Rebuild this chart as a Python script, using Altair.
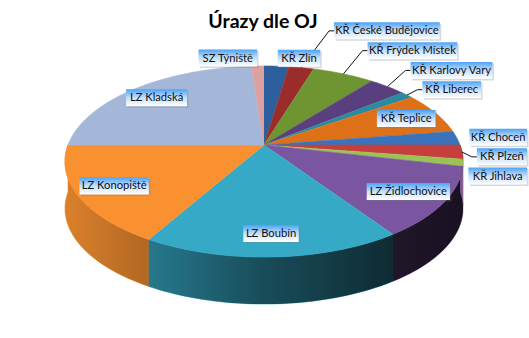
import math
import altair as alt
import pandas as pd

# ---------------- data ----------------
title_text = "Úrazy dle OJ"
labels = ["KŘ Zlín", "KŘ České Budějovice", "KŘ Frýdek Místek", "KŘ Karlovy Vary",
          "KŘ Liberec", "KŘ Teplice", "KŘ Choceň", "KŘ Plzeň", "KŘ Jihlava",
          "LZ Židlochovice", "LZ Boubín", "LZ Konopiště", "LZ Kladská", "SZ Týniště"]
values = [2, 2, 5, 3, 1, 6, 2, 2, 1, 10, 15, 14, 20, 1]

# ---------------- styles ----------------
colors = ["#2C5F9B", "#9A2D2B", "#6F9432", "#5A3F7E", "#2A8AA0", "#DE7118",
          "#3B72BC", "#C63F3C", "#9BC255", "#7A56A0", "#36A9C6", "#F99131",
          "#A5B7D8", "#DDA0A0"]

W, H = 529, 338
CX, CY = 264.0, 145.0          # projected pie centre
RX, RY, K = 196.0, 92.7, 0.173 # ellipse radii and perspective factor
DEPTH = 47.0
FONT = "Lato"
FS = 11.2
BOX_H = 17.0
PAD = 8.0
OUT_R = 1.12
IN_R = 0.82
INSIDE_SHARE = 0.06


def proj(t, r=1.0):
    u = r * math.sin(t)
    v = -r * math.cos(t)
    d = 1.0 - K * v
    return CX + RX * u / d, CY + RY * v / d


def arc(a0, a1, step=math.radians(1.5)):
    n = max(2, int(math.ceil((a1 - a0) / step)) + 1)
    return [a0 + (a1 - a0) * j / (n - 1) for j in range(n)]


total = float(sum(values))
starts, ends = [], []
acc = 0.0
for v in values:
    starts.append(acc / total * 2 * math.pi)
    acc += v
    ends.append(acc / total * 2 * math.pi)

# top faces
top_rows = []
for lab, a0, a1, c in zip(labels, starts, ends, colors):
    pts = [(CX, CY)] + [proj(t) for t in arc(a0, a1)]
    for j, (x, y) in enumerate(pts):
        top_rows.append(dict(slice=lab, ord=j, x=x, y=y, color=c))

# side walls (front half only)
side_rows = []
for lab, a0, a1, c in zip(labels, starts, ends, colors):
    s, e = max(a0, math.pi / 2), min(a1, 3 * math.pi / 2)
    if e <= s:
        continue
    ts = arc(s, e)
    pts = [proj(t) for t in ts] + [(proj(t)[0], proj(t)[1] + DEPTH) for t in reversed(ts)]
    for j, (x, y) in enumerate(pts):
        side_rows.append(dict(slice=lab, ord=j, x=x, y=y, color=c))

# shading band over the side walls
ts = arc(math.pi / 2, 3 * math.pi / 2)
band_pts = [proj(t) for t in ts] + [(proj(t)[0], proj(t)[1] + DEPTH) for t in reversed(ts)]
band_rows = [dict(ord=j, x=x, y=y) for j, (x, y) in enumerate(band_pts)]


def text_w(s):
    w = 0.0
    for ch in s:
        if ch == " ":
            w += 0.24
        elif ch in "iíljtfrřI":
            w += 0.28
        elif ch in "mM":
            w += 0.82
        elif ch.isupper():
            w += 0.6
        else:
            w += 0.48
    return w * FS


placed = []


def overlaps(b):
    for p in placed:
        if b[0] < p[2] + 2 and b[2] + 2 > p[0] and b[1] < p[3] + 2 and b[3] + 2 > p[1]:
            return True
    return False


label_rows, leader_rows = [], []


def add_label(i, box, leader):
    placed.append(box)
    label_rows.append(dict(label=labels[i], bx0=box[0], bx1=box[2], by0=box[1], by1=box[3],
                           x=(box[0] + box[2]) / 2, y=(box[1] + box[3]) / 2 + 0.5,
                           sx0=box[0] + 1.5, sx1=box[2] + 1.5,
                           sy0=box[1] + 1.5, sy1=box[3] + 1.5))
    if leader:
        mid = (starts[i] + ends[i]) / 2
        right = math.sin(mid) >= 0
        rx_, ry_ = proj(mid, 1.0)
        ym = (box[1] + box[3]) / 2
        ex = box[0] if right else box[2]
        stub = ex - 5 if right else ex + 5
        if math.hypot(rx_ - ex, ry_ - ym) > 15:
            leader_rows.append(dict(x=rx_, y=ry_, x2=stub, y2=ym))
            leader_rows.append(dict(x=stub, y=ym, x2=ex, y2=ym))


# inside labels
for i in range(len(labels)):
    if values[i] / total >= INSIDE_SHARE:
        mid = (starts[i] + ends[i]) / 2
        bw = text_w(labels[i]) + PAD
        x, y = proj(mid, IN_R)
        add_label(i, (x - bw / 2, y - BOX_H / 2, x + bw / 2, y + BOX_H / 2), False)

# outside labels: upper ones pushed upwards (processed from the horizon up),
# lower ones pushed downwards
outside = [i for i in range(len(labels)) if values[i] / total < INSIDE_SHARE]


def anchor_box(i, dy, shift):
    mid = (starts[i] + ends[i]) / 2
    bw = text_w(labels[i]) + PAD
    right = math.sin(mid) >= 0
    ax, ay = proj(mid, OUT_R)
    ay += dy
    ax += abs(dy) * shift if right else -abs(dy) * shift
    x0 = ax if right else ax - bw
    x0 = min(max(x0, 2), W - 2 - bw)
    return (x0, ay - BOX_H / 2, x0 + bw, ay + BOX_H / 2)


def anchor_y(i):
    return proj((starts[i] + ends[i]) / 2, OUT_R)[1]


upper = sorted([i for i in outside if anchor_y(i) < CY], key=lambda i: -anchor_y(i))
lower = sorted([i for i in outside if i not in upper], key=anchor_y)
for i in upper:
    dy = 0
    while overlaps(anchor_box(i, dy, 1.0)) and dy > -120:
        dy -= 1
    add_label(i, anchor_box(i, dy, 1.0), True)
for i in lower:
    dy = 0
    while overlaps(anchor_box(i, dy, 0.0)) and dy < 120:
        dy += 1
    add_label(i, anchor_box(i, dy, 0.0), True)

top_df = pd.DataFrame(top_rows)
side_df = pd.DataFrame(side_rows)
band_df = pd.DataFrame(band_rows)
lab_df = pd.DataFrame(label_rows)
lead_df = pd.DataFrame(leader_rows)

xs = alt.Scale(domain=[0, W], nice=False, zero=False)
ys = alt.Scale(domain=[0, H], nice=False, zero=False, reverse=True)

sides = alt.Chart(side_df).mark_line(filled=True, strokeWidth=0.6).encode(
    x=alt.X("x:Q", scale=xs, axis=None),
    y=alt.Y("y:Q", scale=ys, axis=None),
    fill=alt.Fill("color:N", scale=None),
    stroke=alt.Stroke("color:N", scale=None),
    detail="slice:N",
    order="ord:Q",
)

shade = alt.Chart(band_df).mark_line(
    filled=True, strokeWidth=0,
    fill=alt.LinearGradient(
        gradient="linear", x1=0, x2=1, y1=0, y2=0,
        stops=[alt.GradientStop(offset=0, color="rgba(0,0,0,0.12)"),
               alt.GradientStop(offset=0.2, color="rgba(0,0,0,0.28)"),
               alt.GradientStop(offset=0.5, color="rgba(0,0,0,0.55)"),
               alt.GradientStop(offset=0.82, color="rgba(0,0,0,0.74)"),
               alt.GradientStop(offset=1, color="rgba(0,0,0,0.8)")]),
).encode(x="x:Q", y="y:Q", order="ord:Q")

tops = alt.Chart(top_df).mark_line(filled=True, strokeWidth=0.6).encode(
    x="x:Q", y="y:Q",
    fill=alt.Fill("color:N", scale=None),
    stroke=alt.Stroke("color:N", scale=None),
    detail="slice:N",
    order="ord:Q",
)

leaders = alt.Chart(lead_df).mark_rule(color="#111111", strokeWidth=1).encode(
    x="x:Q", y="y:Q", x2="x2:Q", y2="y2:Q")

shadows = alt.Chart(lab_df).mark_rect(color="#7f7f7f", opacity=0.3).encode(
    x="sx0:Q", x2="sx1:Q", y="sy0:Q", y2="sy1:Q")

boxes = alt.Chart(lab_df).mark_rect(
    fill=alt.LinearGradient(
        gradient="linear", x1=0, x2=0, y1=0, y2=1,
        stops=[alt.GradientStop(offset=0, color="#4DA2F6"),
               alt.GradientStop(offset=0.5, color="#C6E0FC"),
               alt.GradientStop(offset=1, color="#FFFFFF")]),
).encode(x="bx0:Q", x2="bx1:Q", y="by0:Q", y2="by1:Q")

texts = alt.Chart(lab_df).mark_text(font=FONT, fontSize=FS, color="#111111",
                                    align="center", baseline="middle").encode(
    x="x:Q", y="y:Q", text="label:N")

title = alt.Chart(pd.DataFrame({"t": [title_text]})).mark_text(
    font=FONT, fontSize=19.5, fontWeight="bold", color="#000000",
    align="center", baseline="alphabetic").encode(
    x=alt.value(263), y=alt.value(28), text="t:N")

chart = alt.layer(sides, shade, tops, leaders, shadows, boxes, texts, title).properties(
    width=W, height=H, padding=0, autosize="none"
).configure_view(stroke=None)

chart.save("out.html", embed_options={"renderer": "svg", "actions": False})
